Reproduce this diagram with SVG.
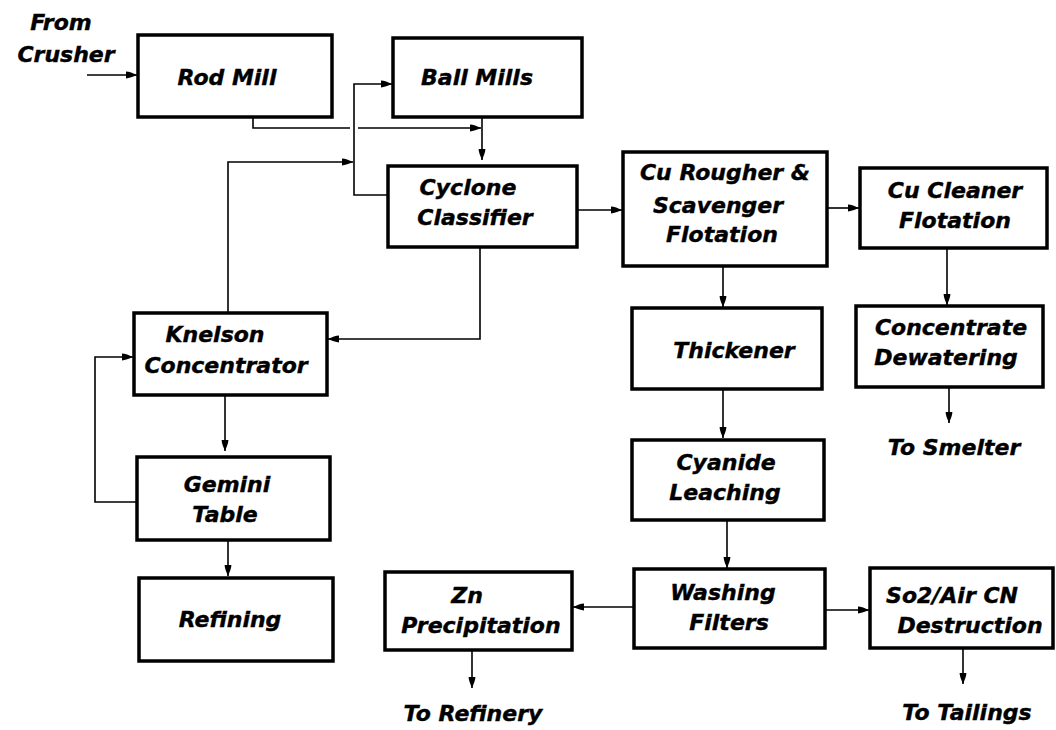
<svg xmlns="http://www.w3.org/2000/svg" width="1056" height="730" viewBox="0 0 1056 730">
<style>
.box{fill:#fff;stroke:#000;stroke-width:3.5}
.ln{fill:none;stroke:#000;stroke-width:1.6}
text{font-family:"DejaVu Sans","Liberation Sans",sans-serif;font-weight:bold;font-style:italic;font-size:22px;fill:#000;stroke:#000;stroke-width:0.4;text-anchor:middle}
</style>
<defs>
<marker id="ah" markerUnits="userSpaceOnUse" markerWidth="12" markerHeight="10" refX="11" refY="5" orient="auto" overflow="visible">
<path d="M0,1.6 C3,1.6 7,3.4 11,5 C7,6.6 3,8.4 0,8.4 Z" fill="#000"/>
</marker>
</defs>
<rect width="1056" height="730" fill="#fff"/>
<g id="connectors">
<path class="ln" d="M87,75 H137" marker-end="url(#ah)"/>
<path class="ln" d="M253,117 V128 H350"/>
<path class="ln" d="M358,128 H481" marker-end="url(#ah)"/>
<path class="ln" d="M482,117 V160" marker-end="url(#ah)"/>
<path class="ln" d="M388,195 H354 V84 H392" marker-end="url(#ah)"/>
<path class="ln" d="M228,313 V162 H353" marker-end="url(#ah)"/>
<path class="ln" d="M577,210 H622" marker-end="url(#ah)"/>
<path class="ln" d="M480,247 V339 H328" marker-end="url(#ah)"/>
<path class="ln" d="M827,208 H859" marker-end="url(#ah)"/>
<path class="ln" d="M723,266 V307" marker-end="url(#ah)"/>
<path class="ln" d="M947,248 V305" marker-end="url(#ah)"/>
<path class="ln" d="M949,387 V423" marker-end="url(#ah)"/>
<path class="ln" d="M723,389 V438" marker-end="url(#ah)"/>
<path class="ln" d="M727,520 V568" marker-end="url(#ah)"/>
<path class="ln" d="M634,607 H573" marker-end="url(#ah)"/>
<path class="ln" d="M825,610 H869" marker-end="url(#ah)"/>
<path class="ln" d="M472,650 V688" marker-end="url(#ah)"/>
<path class="ln" d="M963,648 V684" marker-end="url(#ah)"/>
<path class="ln" d="M225,395 V451" marker-end="url(#ah)"/>
<path class="ln" d="M228,540 V576" marker-end="url(#ah)"/>
<path class="ln" d="M137,502 H95 V357 H133" marker-end="url(#ah)"/>
</g>
<g id="from-crusher"><text x="61" y="30">From</text><text x="66" y="62">Crusher</text></g>
<g id="rod-mill"><rect class="box" x="138" y="35" width="194" height="82"/><text x="227" y="85">Rod Mill</text></g>
<g id="ball-mills"><rect class="box" x="393" y="38" width="189" height="79"/><text x="477" y="85">Ball Mills</text></g>
<g id="cyclone"><rect class="box" x="388" y="166" width="189" height="81"/><text x="468" y="195">Cyclone</text><text x="475" y="225">Classifier</text></g>
<g id="rougher"><rect class="box" x="623" y="152" width="204" height="114"/><text x="725" y="180">Cu Rougher &amp;</text><text x="718" y="213">Scavenger</text><text x="722" y="242">Flotation</text></g>
<g id="cleaner"><rect class="box" x="860" y="168" width="187" height="80"/><text x="955" y="198">Cu Cleaner</text><text x="955" y="228">Flotation</text></g>
<g id="knelson"><rect class="box" x="134" y="313" width="193" height="82"/><text x="215" y="342">Knelson</text><text x="226" y="373">Concentrator</text></g>
<g id="thickener"><rect class="box" x="632" y="308" width="190" height="81"/><text x="734" y="358">Thickener</text></g>
<g id="dewatering"><rect class="box" x="856" y="306" width="187" height="81"/><text x="951" y="335">Concentrate</text><text x="946" y="365">Dewatering</text></g>
<g id="to-smelter"><text x="954" y="455">To Smelter</text></g>
<g id="gemini"><rect class="box" x="137" y="457" width="193" height="83"/><text x="227" y="492">Gemini</text><text x="225" y="522">Table</text></g>
<g id="refining"><rect class="box" x="139" y="578" width="194" height="83"/><text x="230" y="627">Refining</text></g>
<g id="cyanide"><rect class="box" x="632" y="440" width="192" height="80"/><text x="726" y="470">Cyanide</text><text x="725" y="500">Leaching</text></g>
<g id="washing"><rect class="box" x="634" y="569" width="191" height="79"/><text x="723" y="600">Washing</text><text x="729" y="630">Filters</text></g>
<g id="zn"><rect class="box" x="385" y="572" width="187" height="78"/><text x="467" y="603">Zn</text><text x="481" y="633">Precipitation</text></g>
<g id="so2"><rect class="box" x="870" y="568" width="183" height="80"/><text x="952" y="603">So2/Air CN</text><text x="970" y="633">Destruction</text></g>
<g id="to-refinery"><text x="473" y="721">To Refinery</text></g>
<g id="to-tailings"><text x="967" y="720">To Tailings</text></g>
</svg>
